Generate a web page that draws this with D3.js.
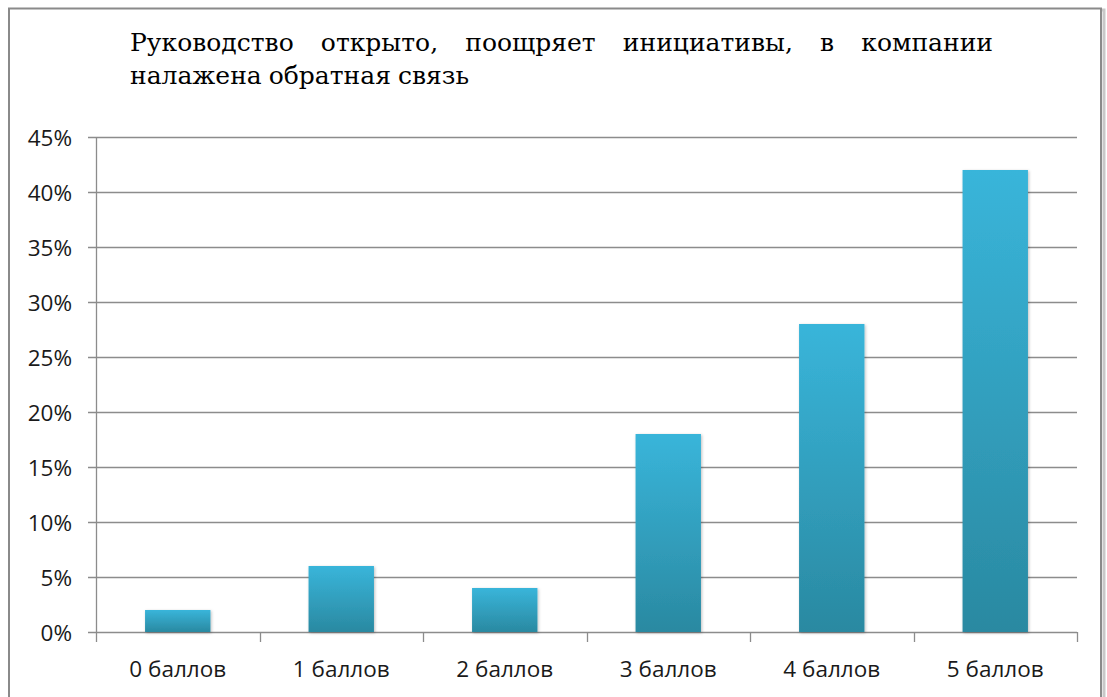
<!DOCTYPE html>
<html>
<head>
<meta charset="utf-8">
<script src="https://cdn.jsdelivr.net/npm/d3@7"></script>
<style>
  body { margin: 0; background: #fff; }
  .title { font-family: 'DejaVu Serif', serif; font-size: 25px; }
  .tick-label { font-family: 'Open Sans', sans-serif; font-size: 22.5px; }
</style>
</head>
<body>
<svg id="drawing_region"></svg>
<script>
const categories = ['0 баллов', '1 баллов', '2 баллов', '3 баллов', '4 баллов', '5 баллов'];
const values = [0.02, 0.06, 0.04, 0.18, 0.28, 0.42];
const yticks = [0, 0.05, 0.10, 0.15, 0.20, 0.25, 0.30, 0.35, 0.40, 0.45];
const titleLines = [
    ['Руководство', 'открыто,', 'поощряет', 'инициативы,', 'в', 'компании'],
    ['налажена', 'обратная', 'связь']
];

const config = {
    width: 1107,
    height: 697,
    margin: {top: 137, right: 30, bottom: 64, left: 96}
};

const svg = d3.select('#drawing_region')
    .attr('width', config.width)
    .attr('height', config.height);

const defs = svg.append('defs');
const grad = defs.append('linearGradient')
    .attr('id', 'barGrad')
    .attr('x1', 0).attr('y1', 0).attr('x2', 0).attr('y2', 1);
grad.append('stop').attr('offset', '0%').attr('stop-color', '#39b5da');
grad.append('stop').attr('offset', '100%').attr('stop-color', '#2a89a1');

const shadow = defs.append('filter').attr('id', 'barShadow')
    .attr('x', '-20%').attr('y', '-20%').attr('width', '140%').attr('height', '140%');
shadow.append('feDropShadow')
    .attr('dx', 1).attr('dy', 1).attr('stdDeviation', 1.5)
    .attr('flood-color', '#000').attr('flood-opacity', 0.25);

// frame with soft shadow
svg.append('rect')
    .attr('x', 11).attr('y', 10)
    .attr('width', 1093).attr('height', 700)
    .attr('fill', 'none')
    .attr('stroke', '#c8c8c8')
    .attr('stroke-width', 3);
svg.append('rect')
    .attr('x', 9).attr('y', 8.5)
    .attr('width', 1092).attr('height', 700)
    .attr('fill', '#fff')
    .attr('stroke', '#8a8a8a')
    .attr('stroke-width', 2);

// title, first line justified
const titleLeft = 130, titleRight = 993;
titleLines.forEach((words, i) => {
    const texts = svg.append('g').selectAll('text')
        .data(words)
        .join('text')
        .attr('class', 'title')
        .attr('y', 51 + i * 33)
        .attr('fill', '#000')
        .text(d => d);
    const widths = texts.nodes().map(n => n.getComputedTextLength());
    const total = d3.sum(widths);
    const gap = i === 0 ? (titleRight - titleLeft - total) / (words.length - 1) : 7;
    let x = titleLeft;
    texts.attr('x', (d, j) => {
        const px = x;
        x += widths[j] + gap;
        return px;
    });
});

const inner_width = config.width - config.margin.left - config.margin.right;
const inner_height = 632 - config.margin.top;

const chart = svg.append('g')
    .attr('transform', `translate(${config.margin.left}, ${config.margin.top})`);

const xscale = d3.scaleBand()
    .domain(categories)
    .range([0, inner_width])
    .paddingInner(0.6)
    .paddingOuter(0.3);

const yscale = d3.scaleLinear()
    .domain([0, 0.45])
    .range([inner_height, 0]);

// gridlines
chart.append('g')
    .selectAll('line')
    .data(yticks)
    .join('line')
    .attr('x1', -8)
    .attr('x2', inner_width)
    .attr('y1', d => Math.round(yscale(d)) + 0.5)
    .attr('y2', d => Math.round(yscale(d)) + 0.5)
    .attr('stroke', '#8c8c8c')
    .attr('stroke-width', 1.3);

// y axis
const yaxis = d3.axisLeft(yscale)
    .tickValues(yticks)
    .tickSize(0)
    .tickPadding(24)
    .tickFormat(d3.format('.0%'));

const yaxis_group = chart.append('g').call(yaxis)
    .attr('font-family', null)
    .attr('font-size', null);
yaxis_group.select('.domain')
    .attr('stroke', '#8c8c8c')
    .attr('stroke-width', 1.3);
yaxis_group.selectAll('text')
    .attr('class', 'tick-label')
    .attr('dy', '0.36em')
    .attr('fill', '#1a1a1a');

// x axis ticks at category boundaries
const bounds = d3.range(categories.length + 1).map(i => i * inner_width / categories.length);
const xaxis_group = chart.append('g')
    .attr('transform', `translate(0, ${inner_height})`);
xaxis_group.selectAll('line')
    .data(bounds)
    .join('line')
    .attr('x1', d => Math.round(d) + 0.5)
    .attr('x2', d => Math.round(d) + 0.5)
    .attr('y1', 0)
    .attr('y2', 10)
    .attr('stroke', '#8c8c8c')
    .attr('stroke-width', 1.3);
xaxis_group.selectAll('text')
    .data(categories)
    .join('text')
    .attr('class', 'tick-label')
    .attr('x', d => xscale(d) + xscale.bandwidth() / 2)
    .attr('y', 45)
    .attr('text-anchor', 'middle')
    .attr('fill', '#1a1a1a')
    .text(d => d);

// bars
chart.append('g')
    .selectAll('rect')
    .data(values)
    .join('rect')
    .attr('x', (d, i) => xscale(categories[i]))
    .attr('y', d => yscale(d))
    .attr('width', xscale.bandwidth())
    .attr('height', d => inner_height - yscale(d))
    .attr('fill', 'url(#barGrad)')
    .attr('filter', 'url(#barShadow)');
</script>
</body>
</html>
